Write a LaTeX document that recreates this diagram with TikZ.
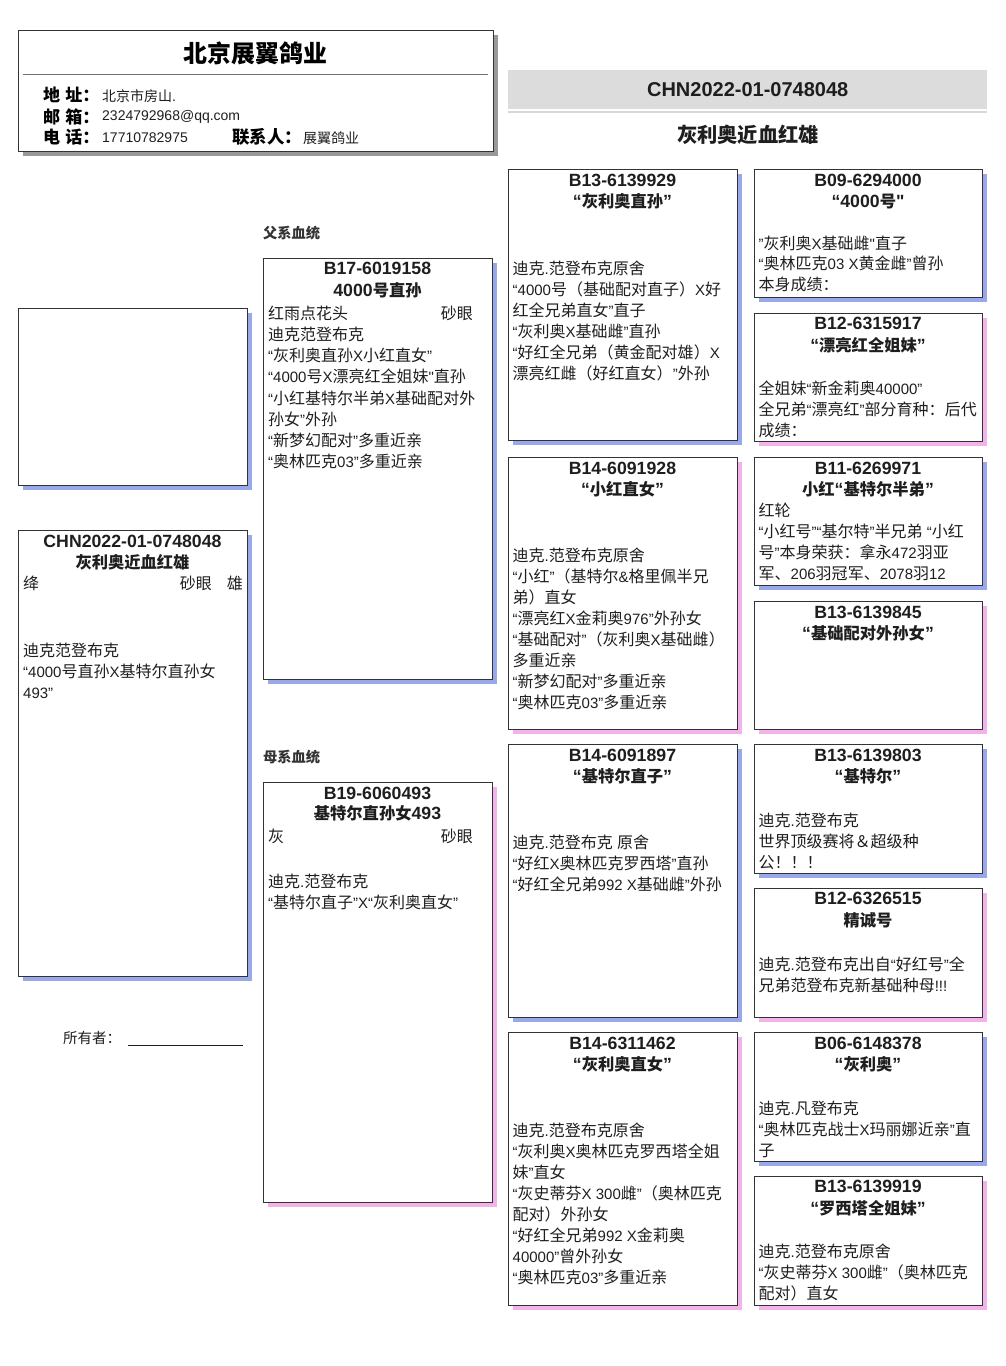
\documentclass[tikz,border=0pt]{standalone}
\usepackage{fontspec}
\usetikzlibrary{shadows}
\setmainfont{Liberation Sans}
\newfontfamily\latfam{Liberation Sans}
\newfontfamily\cjkreg[Scale=1.067]{Noto Sans CJK SC}
\newfontfamily\cjkbd[Scale=0.92]{Noto Sans CJK SC}
\newfontfamily\cjksm[Scale=1.0]{Noto Sans CJK SC}
\let\cjkcur\cjkreg
\newcommand\tocjk{\cjkcur}
\newcommand\tolat{\latfam}
\XeTeXinterchartokenstate=1
\newXeTeXintercharclass\cjkcls
\newcount\mycnt
\def\setcjkrange#1#2{\mycnt=#1\relax\loop\XeTeXcharclass\mycnt=\cjkcls\advance\mycnt by 1\relax\ifnum\mycnt<#2\relax\repeat}
\setcjkrange{"3000}{"3040}
\setcjkrange{"4E00}{"A000}
\setcjkrange{"FF00}{"FFF0}
\XeTeXinterchartoks 0 \cjkcls = {\tocjk}
\XeTeXinterchartoks 4095 \cjkcls = {\tocjk}
\XeTeXinterchartoks \cjkcls 0 = {\tolat}
\XeTeXinterchartoks \cjkcls 4095 = {\tolat}
\newcommand\myst{\vrule width 0pt height 15pt depth 6pt\relax}
\definecolor{shblue}{HTML}{98A8E8}
\definecolor{shpink}{HTML}{F2B2EA}
\definecolor{shgray}{HTML}{999999}
\definecolor{bordc}{HTML}{333333}
\definecolor{txtc}{HTML}{1E1E1E}
\definecolor{bandc}{HTML}{DCDCDC}
\definecolor{bandline}{HTML}{D8D8D8}
\tikzset{
  boxbase/.style={draw=bordc, line width=1pt, fill=white, inner sep=0pt, outer sep=0pt, anchor=north west},
  boxm/.style={boxbase, drop shadow={shadow xshift=4.5pt, shadow yshift=-4.5pt, fill=shblue, opacity=1}},
  boxf/.style={boxbase, drop shadow={shadow xshift=4.5pt, shadow yshift=-4.5pt, fill=shpink, opacity=1}},
  ttl/.style={anchor=north, inner sep=0pt, align=center, text=txtc,
    font=\fontsize{17.7}{21.3}\selectfont\bfseries\let\cjkcur\cjkbd},
  bdy/.style={anchor=north west, inner sep=0pt, align=left, text=txtc,
    font=\fontsize{15}{21}\selectfont},
  one/.style={inner sep=0pt, text=txtc, font=\fontsize{15}{21}\selectfont},
  sect/.style={anchor=west, inner sep=0pt, text=black!80,
    font=\fontsize{15.5}{18}\selectfont\bfseries\let\cjkcur\cjkbd},
  hlab/.style={anchor=west, inner sep=0pt, text=black,
    font=\fontsize{18.5}{22}\selectfont\bfseries\let\cjkcur\cjkbd},
  hval/.style={anchor=west, inner sep=0pt, text=txtc,
    font=\fontsize{14}{18}\selectfont\let\cjkcur\cjksm},
}
\begin{document}
\begin{tikzpicture}[x=1pt,y=-1pt]
\fill[white] (0,0) rectangle (1006,1366);
\useasboundingbox (0,0) rectangle (1006,1366);

% ---------- header ----------
\node[boxbase, drop shadow={shadow xshift=4.5pt, shadow yshift=-4.5pt, fill=shgray, opacity=1},
      minimum width=475pt, minimum height=121pt] (hdr) at (18,30) {};
\node[inner sep=0pt, text=black, font=\fontsize{26}{30}\selectfont\bfseries\let\cjkcur\cjkbd] (hdrt) at (255.5,53) {北京展翼鸽业};
\draw[black!55, line width=1pt] ([xshift=5pt,yshift=-44pt]hdr.north west) -- ([xshift=-5pt,yshift=-44pt]hdr.north east);
\node[hlab] (l1) at (43,95) {地 址：};
\node[hlab] (l2) at (43,116.5) {邮 箱：};
\node[hlab] (l3) at (43,137) {电 话：};
\node[hval] (v1) at (102,96) {北京市房山.};
\node[hval] (v2) at (102,117) {2324792968@qq.com};
\node[hval] (v3) at (102,138) {17710782975};
\node[hlab, font=\fontsize{19}{22}\selectfont\bfseries\let\cjkcur\cjkbd] (l4) at (232,137) {联系人：};
\node[hval] (v4) at (303,138) {展翼鸽业};

% ---------- band ----------
\node[fill=bandc, inner sep=0pt, anchor=north west, minimum width=479pt, minimum height=39pt,
      text=txtc, font=\fontsize{20}{24}\selectfont\bfseries] (band) at (508,70) {CHN2022-01-0748048};
\fill[bandline] ([yshift=-2pt]band.south west) rectangle ([yshift=-4pt]band.south east);
\node[inner sep=0pt, text=txtc, font=\fontsize{22}{26}\selectfont\bfseries\let\cjkcur\cjkbd] (bandsub) at (748,135) {灰利奥近血红雄};

% ---------- column 1 ----------
\node[boxm, minimum width=229pt, minimum height=177pt] (photo) at (18,308) {};
\node[boxm, minimum width=229pt, minimum height=446pt] (mainb) at (18,530) {};
\node[ttl] (mainbt) at ([yshift=-2pt]mainb.north) {\myst CHN2022-01-0748048\\灰利奥近血红雄};
\node[one, anchor=west] (mc1) at (23,583) {绛};
\node[one, anchor=east] (mc2) at (212,583) {砂眼};
\node[one, anchor=east] (mc3) at (243,583) {雄};
\node[bdy] (mainbb) at (23,641) {\myst 迪克范登布克\\“4000号直孙X基特尔直孙女\\493”};
\node[one, anchor=west, font=\fontsize{14.5}{18}\selectfont\let\cjkcur\cjksm] (own) at (63,1038) {所有者：};
\coordinate (ulA) at (128,1045);
\coordinate (ulB) at (243,1045);
\draw[txtc, line width=0.9pt] (ulA) -- (ulB);

% ---------- column 2 ----------
\node[sect] (fx) at (263,233) {父系血统};
\node[boxm, minimum width=229pt, minimum height=421pt] (sire) at (263,258) {};
\node[ttl, font=\fontsize{17.7}{22}\selectfont\bfseries\let\cjkcur\cjkbd] (siret) at ([yshift=-1.5pt]sire.north) {\myst B17-6019158\\4000号直孙};
\node[bdy, font=\fontsize{15}{21.2}\selectfont] (sireb) at (268,304) {\myst 红雨点花头\\迪克范登布克\\“灰利奥直孙X小红直女”\\“4000号X漂亮红全姐妹"直孙\\“小红基特尔半弟X基础配对外\\孙女”外孙\\“新梦幻配对”多重近亲\\“奥林匹克03”多重近亲};
\node[one, anchor=east] (sirec) at (473,313) {砂眼};

\node[sect] (mx) at (263,757) {母系血统};
\node[boxf, minimum width=229pt, minimum height=420pt] (dam) at (263,782) {};
\node[ttl, font=\fontsize{17.7}{20.5}\selectfont\bfseries\let\cjkcur\cjkbd] (damt) at ([yshift=-2pt]dam.north) {\myst B19-6060493\\基特尔直孙女493};
\node[one, anchor=west] (damc1) at (268,836) {灰};
\node[one, anchor=east] (damc2) at (473,836) {砂眼};
\node[bdy] (damb) at (268,872) {\myst 迪克.范登布克\\“基特尔直子”X“灰利奥直女”};

% ---------- column 3 ----------
\node[boxm, minimum width=229pt, minimum height=271pt] (ss) at (508,169) {};
\node[ttl] (sst) at ([yshift=-2pt]ss.north) {\myst B13-6139929\\“灰利奥直孙”};
\node[bdy] (ssb) at (512.5,259) {\myst 迪克.范登布克原舍\\“4000号（基础配对直子）X好\\红全兄弟直女”直子\\“灰利奥X基础雌”直孙\\“好红全兄弟（黄金配对雄）X\\漂亮红雌（好红直女）”外孙};

\node[boxf, minimum width=229pt, minimum height=272pt] (sd) at (508,457) {};
\node[ttl] (sdt) at ([yshift=-2pt]sd.north) {\myst B14-6091928\\“小红直女”};
\node[bdy] (sdb) at (512.5,546) {\myst 迪克.范登布克原舍\\“小红”（基特尔\&格里佩半兄\\弟）直女\\“漂亮红X金莉奥976”外孙女\\“基础配对”（灰利奥X基础雌）\\多重近亲\\“新梦幻配对”多重近亲\\“奥林匹克03”多重近亲};

\node[boxm, minimum width=229pt, minimum height=273pt] (ds) at (508,744) {};
\node[ttl] (dst) at ([yshift=-2pt]ds.north) {\myst B14-6091897\\“基特尔直子”};
\node[bdy] (dsb) at (512.5,833) {\myst 迪克.范登布克 原舍\\“好红X奥林匹克罗西塔”直孙\\“好红全兄弟992 X基础雌”外孙};

\node[boxf, minimum width=229pt, minimum height=273pt] (dd) at (508,1032) {};
\node[ttl] (ddt) at ([yshift=-2pt]dd.north) {\myst B14-6311462\\“灰利奥直女”};
\node[bdy] (ddb) at (512.5,1121) {\myst 迪克.范登布克原舍\\“灰利奥X奥林匹克罗西塔全姐\\妹”直女\\“灰史蒂芬X 300雌”（奥林匹克\\配对）外孙女\\“好红全兄弟992 X金莉奥\\40000”曾外孙女\\“奥林匹克03”多重近亲};

% ---------- column 4 ----------
\node[boxm, minimum width=228pt, minimum height=128pt] (sss) at (754,169) {};
\node[ttl] (ssst) at ([yshift=-2pt]sss.north) {\myst B09-6294000\\“4000号"};
\node[bdy, font=\fontsize{15}{20.5}\selectfont] (sssb) at (758.5,234) {\myst "灰利奥X基础雌"直子\\“奥林匹克03 X黄金雌”曾孙\\本身成绩：};

\node[boxf, minimum width=228pt, minimum height=128pt] (ssd) at (754,313) {};
\node[ttl] (ssdt) at ([yshift=-1.5pt]ssd.north) {\myst B12-6315917\\“漂亮红全姐妹”};
\node[bdy] (ssdb) at (758.5,379) {\myst 全姐妹“新金莉奥40000”\\全兄弟“漂亮红”部分育种：后代\\成绩：};

\node[boxm, minimum width=228pt, minimum height=128pt] (sds) at (754,457) {};
\node[ttl] (sdst) at ([yshift=-2pt]sds.north) {\myst B11-6269971\\小红“基特尔半弟”};
\node[bdy] (sdsb) at (758.5,501) {\myst 红轮\\“小红号”“基尔特”半兄弟 “小红\\号”本身荣获：拿永472羽亚\\军、206羽冠军、2078羽12};

\node[boxf, minimum width=228pt, minimum height=128pt] (sdd) at (754,601) {};
\node[ttl] (sddt) at ([yshift=-2pt]sdd.north) {\myst B13-6139845\\“基础配对外孙女”};

\node[boxm, minimum width=228pt, minimum height=129pt] (dss) at (754,744) {};
\node[ttl] (dsst) at ([yshift=-2pt]dss.north) {\myst B13-6139803\\“基特尔”};
\node[bdy] (dssb) at (758.5,811) {\myst 迪克.范登布克\\世界顶级赛将＆超级种\\公！！！};

\node[boxf, minimum width=228pt, minimum height=129pt] (dsd) at (754,888) {};
\node[ttl] (dsdt) at ([yshift=-1.5pt]dsd.north) {\myst B12-6326515\\精诚号};
\node[bdy] (dsdb) at (758.5,955) {\myst 迪克.范登布克出自“好红号”全\\兄弟范登布克新基础种母!!!};

\node[boxm, minimum width=228pt, minimum height=129pt] (dds) at (754,1032) {};
\node[ttl] (ddst) at ([yshift=-2pt]dds.north) {\myst B06-6148378\\“灰利奥”};
\node[bdy] (ddsb) at (758.5,1099) {\myst 迪克.凡登布克\\“奥林匹克战士X玛丽娜近亲”直\\子};

\node[boxf, minimum width=228pt, minimum height=129pt] (ddd) at (754,1176) {};
\node[ttl] (dddt) at ([yshift=-1.5pt]ddd.north) {\myst B13-6139919\\“罗西塔全姐妹”};
\node[bdy] (dddb) at (758.5,1242) {\myst 迪克.范登布克原舍\\“灰史蒂芬X 300雌”（奥林匹克\\配对）直女};

\end{tikzpicture}
\end{document}
